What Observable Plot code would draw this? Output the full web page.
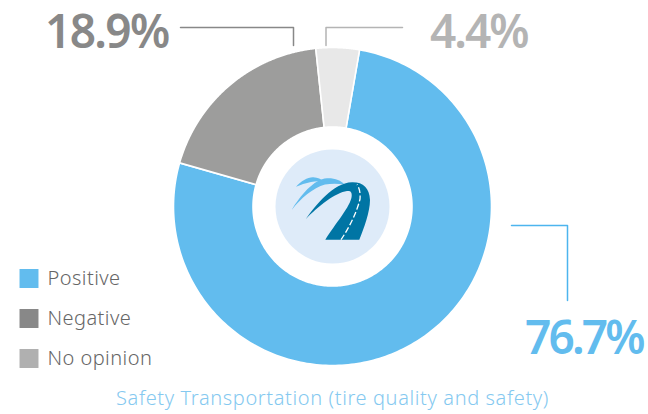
<!DOCTYPE html>
<html><head><meta charset="utf-8">
<script src="https://cdn.jsdelivr.net/npm/d3@7"></script>
<script src="https://cdn.jsdelivr.net/npm/@observablehq/plot@0.6"></script>
<style>html,body{margin:0;padding:0;background:#fff}svg{display:block}
.pct0 text{letter-spacing:-2.9px}
.pct1 text{letter-spacing:-1.7px}
.pct2 text{letter-spacing:-2px}
.key text{letter-spacing:0.45px}
.cap text{letter-spacing:0.62px}
</style>
</head><body><div id="c"></div>
<script>
const categories = ["Positive", "Negative", "No opinion"];
const values = [76.7, 18.9, 4.4];
const labels = ["76.7%", "18.9%", "4.4%"];
const sliceColors = ["#62bcee", "#9d9d9c", "#e8e8e8"];
const keyColors = ["#62bcee", "#888888", "#b0b0b0"];
const labelColors = ["#62bcee", "#888888", "#b4b4b4"];
const caption = "Safety Transportation (tire quality and safety)";

const W = 648, H = 414, font = "'Noto Sans', 'Open Sans', sans-serif";
const cx = 332, cy = 206, R = 159, r0 = 79.5, startDeg = 9.8;

const pie = d3.pie().sort(null)
  .startAngle(startDeg * Math.PI / 180)
  .endAngle((startDeg + 360) * Math.PI / 180)(values);
const pt = (a, r) => [cx + r * Math.sin(a), cy - r * Math.cos(a)];
const slicePts = pie.flatMap((s, i) => {
  const steps = d3.range(0, 241).map(k => s.startAngle + (s.endAngle - s.startAngle) * k / 240);
  return [...steps.map(a => pt(a, R)), ...steps.reverse().map(a => pt(a, r0))]
    .map(([x, y]) => ({x, y, i, c: sliceColors[i]}));
});

const leaders = [
  {c: "#4db5ee", p: [[511, 225], [567, 225], [567, 300]]},
  {c: labelColors[1], p: [[180, 27], [293, 27], [293, 45]]},
  {c: labelColors[2], p: [[402, 27], [325.5, 27], [325.5, 45]]}
].flatMap((l, i) => l.p.map(([x, y]) => ({x, y, i, c: l.c})));

const labelPos = [
  {x: 644, y: 353},
  {x: 170, y: 47},
  {x: 529, y: 47}
].map((p, i) => ({...p, t: labels[i], c: labelColors[i]}));

const keys = categories.map((t, i) => ({t, c: keyColors[i], y: 278 + i * 40}));

// road logo drawn inside the hole, using the plot's own position scales
const logo = (index, {x, y}) => {
  const g = d3.create("svg:g").attr("transform", `translate(${x(0)},${y(0)})`);
  const add = (d, a) => { const p = g.append("path").attr("d", d); for (const k in a) p.attr(k, a[k]); };
  add("M296,186.7C301,181 308,177 313.3,177.3C318,177.5 321,179 323.5,181.5C319,181 315,181 311,182C306,183 300,185 296,186.7Z", {fill: "#62bcee"});
  add("M291.7,210C300,196 314,179 327,178.3C335,178 341,180.5 344.5,184.5C338,183.5 331,183.5 325,184.5C313,188 301,198 291.7,210Z", {fill: "#62bcee"});
  add("M305.7,219.3C316,205 333,183 352,182.3C363,182 369.5,188 370,200C370,212 364,228 359.3,239.7L325.3,239.7C335,224 351,206 351.7,196C352,191.5 350,190.5 347,191C336,192.5 318,206 305.7,219.3Z", {fill: "#0075a4"});
  add("M341,239.7C349,228 357,212 360,199C360.5,193 359.5,188 357,184.5", {fill: "none", stroke: "#fff", "stroke-width": 1.3, "stroke-dasharray": "6 2.5"});
  return g.node();
};

const plot = Plot.plot({
  width: W, height: H, margin: 0,
  x: {domain: [0, W], range: [0, W], axis: null},
  y: {domain: [0, H], range: [0, H], axis: null},
  style: {background: "#fff", fontFamily: font},
  marks: [
    Plot.line(slicePts, {x: "x", y: "y", z: "i", curve: "linear-closed", fill: "c", stroke: "#fff", strokeWidth: 1.6}),
    Plot.dot([{x: cx, y: cy}], {x: "x", y: "y", r: 57, fill: "#deebf9", stroke: null}),
    logo,
    Plot.line(leaders, {x: "x", y: "y", z: "i", stroke: "c", strokeWidth: 1.5, curve: "linear"}),
    labelPos.map((d, i) => Plot.text([d], {x: "x", y: "y", text: "t", fill: "c", textAnchor: "end", lineAnchor: "bottom", fontSize: 46, fontWeight: 600, className: "pct" + i, dx: -2})),
    Plot.dot(keys, {x: 28.5, y: "y", symbol: "square", r: 10.7, fill: "c", stroke: null}),
    Plot.text(keys, {x: 47, y: "y", text: "t", fill: "#666", textAnchor: "start", fontSize: 20, fontWeight: 300, className: "key"}),
    Plot.text([caption], {x: cx, y: 398, text: d => d, fill: "#85c9f0", fontSize: 20, fontWeight: 300, className: "cap"})
  ]
});
document.getElementById("c").append(plot);
</script></body></html>
